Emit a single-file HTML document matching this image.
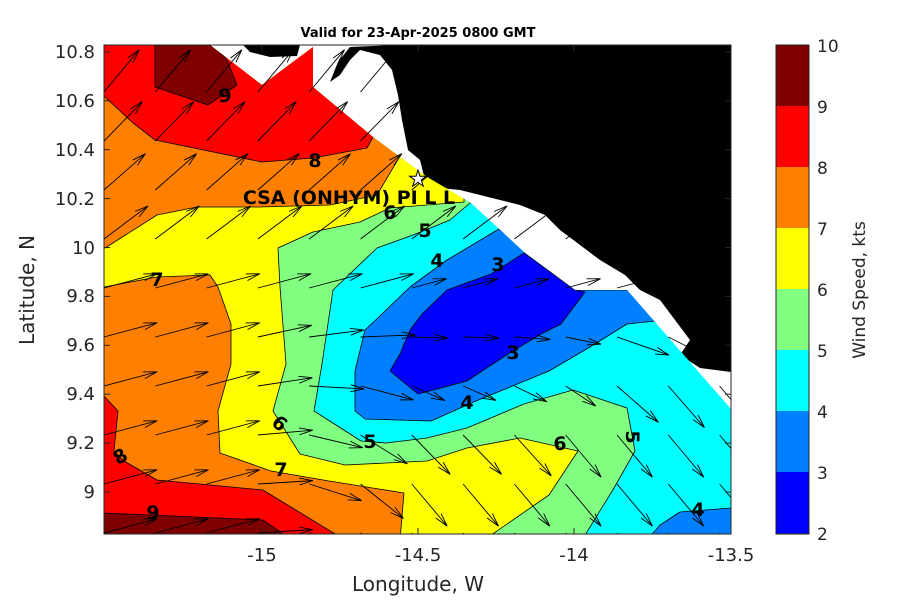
<!DOCTYPE html>
<html><head><meta charset="utf-8"><style>
html,body{margin:0;padding:0;background:#fff;width:900px;height:600px;overflow:hidden}
svg text{font-family:"DejaVu Sans","Liberation Sans",sans-serif}
</style></head><body>
<svg id="s" width="900" height="600" viewBox="0 0 900 600" xmlns="http://www.w3.org/2000/svg">
<defs><clipPath id="dom"><polygon points="104,45 210,45 262,85 313,47 313,87 373,137 427,177 471,203 524,252 575,290 627,290 731,409 731,534 104,534"/></clipPath>
<clipPath id="plot"><rect x="104" y="45" width="627" height="489"/></clipPath></defs>
<rect x="104" y="45" width="627" height="489" fill="#fff"/>
<polygon fill="#000" points="395,45 731,45 731,372 700,368 680,355 690,340 675,320 660,300 640,290 625,275 600,260 580,245 560,230 545,215 520,205 500,200 480,195 460,190 440,188 425,180 420,160 408,150 402,120 398,95 392,70 380,55 360,50 350,60 340,75 330,82 338,62 350,47"/>
<polygon fill="#000" points="243,45 300,45 297,56 270,57 250,52"/>
<g clip-path="url(#dom)" stroke="#000" stroke-width="0.8" stroke-linejoin="round">
<rect x="104" y="45" width="627" height="489" fill="#00ffff" stroke="none"/>
<polygon fill="#80ff80" points="104,45 470,45 470,203 450,220 413,235 377,248 333,290 322,364 314,411 361,441 386,443 427,438 467,428 524,404 573,390 627,408 635,451 614,488 582,540 104,540"/>
<polygon fill="#ffff00" points="104,45 464,45 464,202 390,208 360,222 313,232 278,248 280,287 286,364 273,411 300,454 345,465 427,461 467,448 520,438 578,451 549,495 484,540 104,540"/>
<polygon fill="#ff8000" points="104,45 410,45 400,156 377,195 330,205 260,207 197,207 157,215 105,248 100,248 100,45"/>
<polygon fill="#ff8000" points="100,287 104,287 157,277 210,275 218,287 231,324 231,364 218,411 220,453 271,471 329,481 404,493 400,540 100,540"/>
<polygon fill="#ff0000" points="100,45 380,45 373,137 367,148 313,158 262,162 155,140 133,123 105,97 100,97"/>
<polygon fill="#ff0000" points="100,396 104,396 118,411 114,451 124,461 157,480 263,490 345,540 100,540"/>
<polygon fill="#7f0000" points="155,40 155,87 208,105 237,85 227,60 210,40"/>
<polygon fill="#7f0000" points="100,513 104,513 263,520 292,540 100,540"/>
<polygon fill="#0080ff" points="410,287 382,314 365,330 355,371 355,411 365,419 431,421 476,401 549,371 590,347 627,324 665,320 640,290 575,290 499,229 447,260"/>
<polygon fill="#0000ff" points="524,253 575,290 585,292 561,324 541,334 508,354 467,381 418,394 390,371 400,354 410,330 422,314 447,290 491,274"/>
<polygon fill="#0080ff" points="647,540 660,525 680,512 731,508 740,508 740,540"/>
</g>
<g id="arr" clip-path="url(#plot)" stroke="#000" stroke-width="0.9" fill="none"></g>
<g font-weight="bold" font-size="19" fill="#000" text-anchor="middle">
<text x="225" y="102">9</text><text x="315" y="167">8</text><text x="157" y="286">7</text>
<text x="390" y="219">6</text><text x="425" y="237">5</text><text x="437" y="267">4</text>
<text x="498" y="271">3</text><text x="513" y="359">3</text><text x="467" y="409">4</text>
<text x="280" y="430" transform="rotate(40 280 423)">6</text><text x="370" y="448">5</text>
<text x="560" y="450">6</text><text x="633" y="444" transform="rotate(90 633 437)">5</text>
<text x="281" y="476">7</text><text x="120" y="463" transform="rotate(-30 120 456)">8</text>
<text x="153" y="519">9</text><text x="698" y="516">4</text>
<text x="349" y="204" font-size="19">CSA (ONHYM) PI L L</text>
</g>
<text x="418" y="186" text-anchor="middle" font-size="22" fill="#fff" stroke="#000" stroke-width="1">★</text>
<text x="418" y="37" text-anchor="middle" font-size="13" font-weight="bold">Valid for 23-Apr-2025 0800 GMT</text>
<rect x="104" y="45" width="627" height="489" fill="none" stroke="#262626" stroke-width="1"/>
<g id="ticks" stroke="#262626" stroke-width="1"></g>
<g font-size="18" fill="#262626">
<g text-anchor="middle"><text x="262" y="561">-15</text><text x="418" y="561">-14.5</text><text x="574" y="561">-14</text><text x="731" y="561">-13.5</text></g>
<g text-anchor="end"><text x="95" y="498">9</text><text x="95" y="449">9.2</text><text x="95" y="400">9.4</text><text x="95" y="351">9.6</text><text x="95" y="302">9.8</text><text x="95" y="254">10</text><text x="95" y="205">10.2</text><text x="95" y="156">10.4</text><text x="95" y="107">10.6</text><text x="95" y="58">10.8</text></g>
<text x="418" y="591" text-anchor="middle" font-size="20">Longitude, W</text>
<text x="0" y="0" transform="translate(34 290) rotate(-90)" text-anchor="middle" font-size="20">Latitude, N</text>
</g>
<g>
<rect x="776" y="45" width="33" height="62" fill="#7f0000"/><rect x="776" y="106" width="33" height="62" fill="#ff0000"/>
<rect x="776" y="167" width="33" height="62" fill="#ff8000"/><rect x="776" y="228" width="33" height="62" fill="#ffff00"/>
<rect x="776" y="289" width="33" height="62" fill="#80ff80"/><rect x="776" y="350" width="33" height="62" fill="#00ffff"/>
<rect x="776" y="411" width="33" height="62" fill="#0080ff"/><rect x="776" y="472" width="33" height="62" fill="#0000ff"/>
<rect x="776" y="45" width="33" height="489" fill="none" stroke="#262626"/>
</g>
<g font-size="17" fill="#262626">
<text x="817" y="52">10</text><text x="817" y="113">9</text><text x="817" y="174">8</text><text x="817" y="235">7</text><text x="817" y="296">6</text><text x="817" y="357">5</text><text x="817" y="418">4</text><text x="817" y="479">3</text><text x="817" y="540">2</text>
<text transform="translate(865 290) rotate(-90)" text-anchor="middle">Wind Speed, kts</text>
</g>
</svg>
<script>
(function(){
var ns="http://www.w3.org/2000/svg",g=document.getElementById('arr'),t=document.getElementById('ticks');
function ln(p,x1,y1,x2,y2){var l=document.createElementNS(ns,'line');l.setAttribute('x1',x1);l.setAttribute('y1',y1);l.setAttribute('x2',x2);l.setAttribute('y2',y2);p.appendChild(l);}
function cl(v,a,b){return Math.max(a,Math.min(b,v));}
var land=[[395,45],[731,45],[731,372],[700,368],[680,355],[690,340],[675,320],[660,300],[640,290],[625,275],[600,260],[580,245],[560,230],[545,215],[520,205],[500,200],[480,195],[460,190],[440,188],[425,180],[420,160],[408,150],[402,120],[398,95],[392,70],[380,55],[370,45]];
function inside(x,y,P){var c=false;for(var i=0,j=P.length-1;i<P.length;j=i++){var a=P[i],b=P[j];if((a[1]>y)!=(b[1]>y)&&x<(b[0]-a[0])*(y-a[1])/(b[1]-a[1])+a[0])c=!c;}return c;}
for(var y=92;y<540;y+=49){for(var x=104;x<735;x+=51.3){
 if(inside(x,y,land))continue;
 var a;
 if(y<260){a=-35-(260-y)/200*18;}
 else{a=-15+cl((y-300)*0.45,0,70)*cl((x-230)/170,0,1)+(y>300&&x>500?(x-500)*0.15:0);a=Math.min(a,50);}
 var L=55;if(x>370&&x<590&&y>270&&y<400)L=36;
 var r=a*Math.PI/180,x2=x+L*Math.cos(r),y2=y+L*Math.sin(r);
 ln(g,x,y,x2,y2);
 var h=14;for(var s=-1;s<=1;s+=2){var rr=r+Math.PI+s*0.25;ln(g,x2,y2,x2+h*Math.cos(rr),y2+h*Math.sin(rr));}
}}
[262,418,574,731].forEach(function(x){ln(t,x,534,x,528);ln(t,x,45,x,51);});
for(var i=0;i<10;i++){var yy=492-i*48.9;ln(t,104,yy,110,yy);ln(t,731,yy,725,yy);}
for(var k=0;k<9;k++){var yc=45+k*61.1;ln(t,809,yc,805,yc);}
})();
</script>
</body></html>
